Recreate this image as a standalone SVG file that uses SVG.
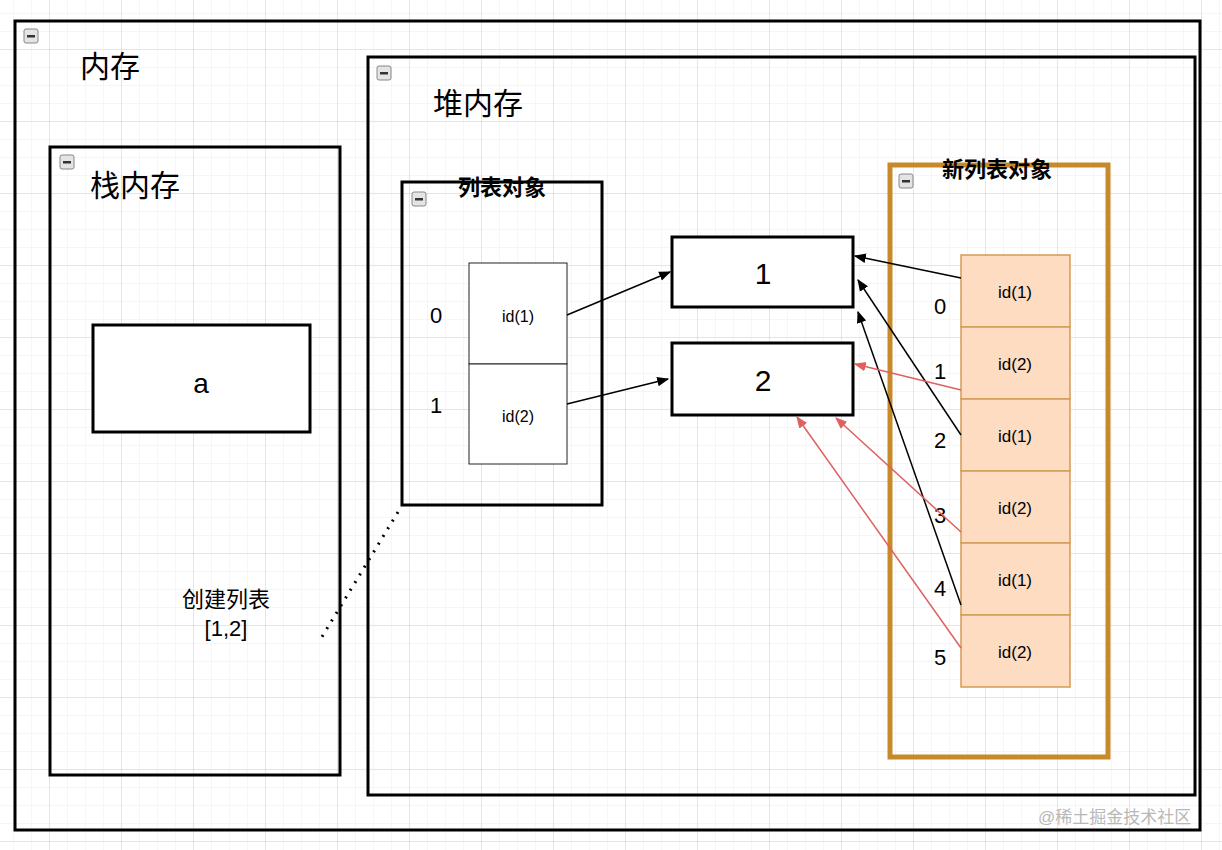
<svg xmlns="http://www.w3.org/2000/svg" width="1222" height="850" viewBox="0 0 1222 850">
<defs>
<pattern id="gs" width="18" height="18" patternUnits="userSpaceOnUse" x="14" y="14"><path d="M18 0V18H0" fill="none" stroke="#ececec" stroke-width="1"/></pattern>
<pattern id="gl" width="72" height="72" patternUnits="userSpaceOnUse" x="50" y="50"><path d="M72 0V72H0" fill="none" stroke="#d4d4d4" stroke-width="1"/></pattern>
<marker id="ab" viewBox="0 0 10 10" refX="9" refY="5" markerWidth="8" markerHeight="8" orient="auto"><path d="M0,1L10,5L0,9Z" fill="#000"/></marker>
<marker id="ar" viewBox="0 0 10 10" refX="9" refY="5" markerWidth="8" markerHeight="8" orient="auto"><path d="M0,1L10,5L0,9Z" fill="#e06060"/></marker>
<g id="mini"><rect x="0" y="0" width="14" height="14" rx="2" fill="#e4e4e4" stroke="#888"/><rect x="3" y="6" width="8" height="2.5" fill="#333"/></g>
</defs>
<style>
.box{fill:none;stroke:#000;stroke-width:3}
.wbox{fill:#fff;stroke:#000;stroke-width:3}
.cell{fill:#fff;stroke:#222;stroke-width:1}
.ncell{fill:#fddcc2;stroke:#d29c55;stroke-width:1.5}
text{font-family:"Liberation Sans","Noto Sans CJK SC",sans-serif;fill:#000}
.t{text-anchor:middle}
</style>
<rect width="1222" height="850" fill="#fff"/>
<rect width="1222" height="850" fill="url(#gs)"/>
<rect width="1222" height="850" fill="url(#gl)"/>
<g id="memory"><rect class="box" x="15" y="21" width="1185" height="809"/><use href="#mini" x="24" y="29"/><text x="80" y="77" font-size="30">内存</text></g>
<g id="heap"><rect class="box" x="368" y="57" width="827" height="738"/><use href="#mini" x="377" y="66"/><text x="433" y="114" font-size="30">堆内存</text></g>
<g id="stack"><rect class="box" x="50" y="147" width="290" height="628"/><use href="#mini" x="60" y="155"/><text x="90" y="196" font-size="30">栈内存</text></g>
<g id="a"><rect class="wbox" x="93" y="325" width="217" height="107"/><text class="t" x="201" y="393" font-size="28">a</text></g>
<g id="list"><rect class="box" x="402" y="182" width="200" height="323"/><use href="#mini" x="412" y="192"/><text class="t" x="502" y="195" font-size="22" font-weight="bold">列表对象</text>
<rect class="cell" x="469" y="263" width="98" height="101"/><rect class="cell" x="469" y="364" width="98" height="100"/>
<text class="t" x="518" y="322" font-size="16">id(1)</text><text class="t" x="518" y="422" font-size="16">id(2)</text>
<text x="430" y="323" font-size="22">0</text><text x="430" y="413" font-size="22">1</text></g>
<g id="v1"><rect class="wbox" x="672" y="237" width="181" height="70"/><text class="t" x="763" y="284" font-size="30">1</text></g>
<g id="v2"><rect class="wbox" x="672" y="343" width="181" height="72"/><text class="t" x="763" y="391" font-size="30">2</text></g>
<g id="newlist"><rect x="890" y="165" width="218" height="592" fill="none" stroke="#c8892a" stroke-width="5"/><use href="#mini" x="899" y="174"/><text class="t" x="997" y="177" font-size="22" font-weight="bold">新列表对象</text>
<rect class="ncell" x="961" y="255" width="109" height="72"/><rect class="ncell" x="961" y="327" width="109" height="72"/><rect class="ncell" x="961" y="399" width="109" height="72"/><rect class="ncell" x="961" y="471" width="109" height="72"/><rect class="ncell" x="961" y="543" width="109" height="72"/><rect class="ncell" x="961" y="615" width="109" height="72"/>
<g font-size="17" text-anchor="middle"><text x="1015" y="298">id(1)</text><text x="1015" y="370">id(2)</text><text x="1015" y="442">id(1)</text><text x="1015" y="514">id(2)</text><text x="1015" y="586">id(1)</text><text x="1015" y="658">id(2)</text></g>
<g font-size="22"><text x="934" y="314">0</text><text x="934" y="379">1</text><text x="934" y="448">2</text><text x="934" y="523">3</text><text x="934" y="596">4</text><text x="934" y="665">5</text></g></g>
<g id="connectors" fill="none" stroke-width="1.5">
<path d="M567 315L670 272" stroke="#000" marker-end="url(#ab)"/>
<path d="M567 404L668 379" stroke="#000" marker-end="url(#ab)"/>
<path d="M961 278L855 256" stroke="#000" marker-end="url(#ab)"/>
<path d="M961 435L858 280" stroke="#000" marker-end="url(#ab)"/>
<path d="M961 605L858 312" stroke="#000" marker-end="url(#ab)"/>
<path d="M961 390L855 364" stroke="#e06060" marker-end="url(#ar)"/>
<path d="M961 532L836 418" stroke="#e06060" marker-end="url(#ar)"/>
<path d="M961 648L797 417" stroke="#e06060" marker-end="url(#ar)"/>
<path d="M398 512L320 640" stroke="#000" stroke-width="3" stroke-dasharray="2,7"/>
</g>
<text class="t" x="226" y="607" font-size="22">创建列表</text>
<text class="t" x="226" y="636" font-size="22">[1,2]</text>
<text x="1038" y="823" font-size="17" style="fill:#b8b8b8">@稀土掘金技术社区</text>
</svg>
